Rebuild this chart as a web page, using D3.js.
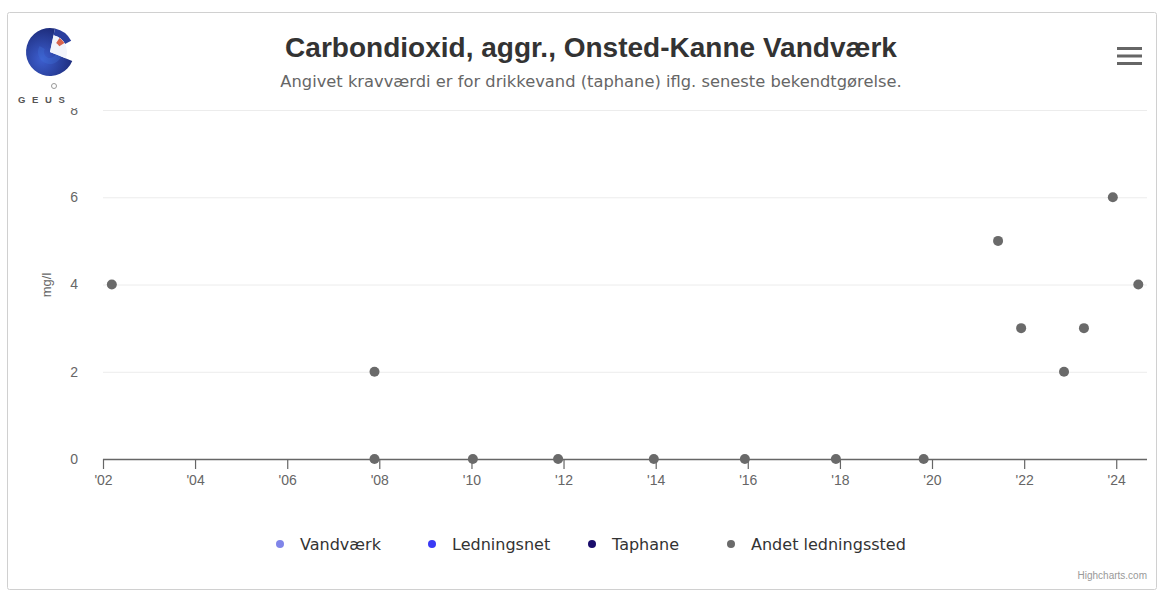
<!DOCTYPE html>
<html><head><meta charset="utf-8">
<script src="https://cdn.jsdelivr.net/npm/d3@7"></script>
<style>
html,body{margin:0;padding:0;background:#fff;}
svg{display:block;font-family:"Liberation Sans",Arial,Helvetica,sans-serif;}
</style></head>
<body>
<script>
const titleText = "Carbondioxid, aggr., Onsted-Kanne Vandværk";
const subtitleText = "Angivet kravværdi er for drikkevand (taphane) iflg. seneste bekendtgørelse.";
const yAxisTitle = "mg/l";
const seriesNames = ["Vandværk", "Ledningsnet", "Taphane", "Andet ledningssted"];
const seriesColors = ["#8085e9", "#3a3af5", "#1a0d6b", "#6a6a6a"];
// Andet ledningssted samples
const andetDates = ["2002-03-12","2007-11-24","2007-11-24","2010-01-12","2011-11-19","2013-12-17","2015-12-09","2017-11-30","2019-10-27","2021-06-08","2021-12-08","2022-11-13","2023-04-20","2023-12-05","2024-06-24"];
const andetValues = [4, 2, 0, 0, 0, 0, 0, 0, 0, 5, 3, 2, 3, 6, 4];
const yTicks = [0, 2, 4, 6, 8];
const xTickYears = [2002, 2004, 2006, 2008, 2010, 2012, 2014, 2016, 2018, 2020, 2022, 2024];

const W = 1163, H = 599;
const svg = d3.select("body").append("svg").attr("width", W).attr("height", H);

function fitText(sel, target) {
  const fs = parseFloat(sel.style("font-size"));
  const len = sel.node().getComputedTextLength();
  if (len > 0) sel.style("font-size", (fs * target / len).toFixed(2) + "px");
  return sel;
}

// frame
svg.append("rect").attr("x", 7.5).attr("y", 12.5).attr("width", 1149).attr("height", 577)
  .attr("fill", "#fff").attr("stroke", "#d0d0d0").attr("stroke-width", 1).attr("rx", 2);

const plot = {left: 103, right: 1147, top: 110, bottom: 459};
const parse = d3.timeParse("%Y-%m-%d");
const x = d3.scaleTime().domain([parse("2002-01-01"), parse("2024-09-01")]).range([plot.left, plot.right]);
const y = d3.scaleLinear().domain([0, 8]).range([plot.bottom, plot.top]);

// grid
svg.append("g").selectAll("line").data(yTicks.filter(d => d > 0)).join("line")
  .attr("x1", plot.left).attr("x2", plot.right)
  .attr("y1", d => y(d) + 0.5).attr("y2", d => y(d) + 0.5)
  .attr("stroke", "#ececec").attr("stroke-width", 1);

// y axis labels
const yAxis = d3.axisLeft(y).tickValues(yTicks).tickSize(0).tickPadding(0).tickFormat(d3.format("d"));
const gy = svg.append("g").attr("transform", `translate(${plot.left - 25},0)`).call(yAxis);
gy.select(".domain").remove();
gy.selectAll("text").attr("fill", "#666").style("font-size", "14px").style("font-family", "inherit");

// y title
svg.append("text").attr("transform", `translate(51,285) rotate(-90)`)
  .attr("text-anchor", "middle").attr("fill", "#666").style("font-size", "13px").text(yAxisTitle);

// x axis
const xAxis = d3.axisBottom(x).tickValues(xTickYears.map(yy => new Date(yy, 0, 1)))
  .tickSize(10).tickPadding(6).tickFormat(d => "'" + d3.timeFormat("%y")(d));
const gx = svg.append("g").attr("transform", `translate(0,${plot.bottom})`).call(xAxis);
gx.select(".domain").attr("stroke", "#666").attr("stroke-width", 1.5).attr("d", `M${plot.left},0.5H${plot.right}`);
gx.selectAll(".tick line").attr("stroke", "#666").attr("stroke-width", 1.2);
gx.selectAll("text").attr("fill", "#666").style("font-size", "14px").style("font-family", "inherit");

// points
const pts = andetDates.map((d, i) => ({date: parse(d), value: andetValues[i]}));
svg.append("g").selectAll("circle").data(pts).join("circle")
  .attr("cx", d => x(d.date)).attr("cy", d => y(d.value)).attr("r", 5)
  .attr("fill", seriesColors[3]);

// title
fitText(svg.append("text").attr("x", 591).attr("y", 57).attr("text-anchor", "middle")
  .attr("fill", "#333").style("font-size", "23px").style("font-weight", "bold").text(titleText), 612);
fitText(svg.append("text").attr("x", 591).attr("y", 87).attr("text-anchor", "middle")
  .attr("fill", "#666").style("font-family", "'DejaVu Sans', Verdana, sans-serif")
  .style("font-size", "13px").text(subtitleText), 622);

// hamburger
svg.append("g").selectAll("rect").data([0, 1, 2]).join("rect")
  .attr("x", 1117).attr("y", d => 47 + d * 7.5).attr("width", 25).attr("height", 3).attr("fill", "#666");

// legend
const legendDotX = [280, 432, 592, 731];
const legendWidths = [83, 101, 71, 155];
const lg = svg.append("g").selectAll("g").data(seriesNames).join("g")
  .attr("transform", (d, i) => `translate(${legendDotX[i]},544)`);
lg.append("circle").attr("r", 4).attr("fill", (d, i) => seriesColors[i]);
lg.append("text").attr("x", 20).attr("y", 5.5).attr("fill", "#333")
  .style("font-family", "'DejaVu Sans', Verdana, sans-serif").style("font-size", "15px").text(d => d)
  .each(function(d, i) { if (i === 3) fitText(d3.select(this), legendWidths[3]); });
{
  const fsLegend = lg.filter((d, i) => i === 3).select("text").style("font-size");
  lg.select("text").style("font-size", fsLegend);
}

// credits
svg.append("text").attr("x", 1147).attr("y", 579).attr("text-anchor", "end")
  .attr("fill", "#999").style("font-size", "10px").text("Highcharts.com");

// logo
const logo = svg.append("g");
logo.append("rect").attr("x", 14).attr("y", 22).attr("width", 70).attr("height", 86).attr("fill", "#fff");
const cx = 50, cy = 52;
const defs = svg.append("defs");
const grad = defs.append("radialGradient").attr("id", "lg").attr("cx", "35%").attr("cy", "65%").attr("r", "70%");
grad.append("stop").attr("offset", "0%").attr("stop-color", "#3d5fd0");
grad.append("stop").attr("offset", "100%").attr("stop-color", "#1c2a78");
const arc = d3.arc();
const toR = a => a * Math.PI / 180;
logo.append("path").attr("transform", `translate(${cx},${cy})`)
  .attr("d", arc({innerRadius: 0, outerRadius: 24, startAngle: toR(112), endAngle: toR(360 + 12)}))
  .attr("fill", "url(#lg)");
logo.append("path").attr("transform", `translate(${cx},${cy})`)
  .attr("d", arc({innerRadius: 17, outerRadius: 24, startAngle: toR(12), endAngle: toR(62)}))
  .attr("fill", "#2b3f9e");
logo.append("path").attr("transform", `translate(${cx},${cy})`)
  .attr("d", arc({innerRadius: 0, outerRadius: 17, startAngle: toR(12), endAngle: toR(112)}))
  .attr("fill", "#f2f4fb");
logo.append("path").attr("transform", `translate(${cx},${cy})`)
  .attr("d", arc({innerRadius: 11, outerRadius: 17, startAngle: toR(34), endAngle: toR(58)}))
  .attr("fill", "#d9634c");
logo.append("path").attr("transform", `translate(${cx},${cy})`)
  .attr("d", arc({innerRadius: 6, outerRadius: 12, startAngle: toR(112), endAngle: toR(300)}))
  .attr("fill", "#3f6fd8").attr("opacity", 0.35);
logo.append("circle").attr("cx", 54).attr("cy", 86).attr("r", 2.5).attr("fill", "none").attr("stroke", "#999").attr("stroke-width", 1);
logo.append("text").attr("x", 18).attr("y", 103).attr("fill", "#555")
  .style("font-size", "9.5px").style("font-weight", "bold").style("letter-spacing", "6.6px").text("GEUS");
</script>
</body></html>
